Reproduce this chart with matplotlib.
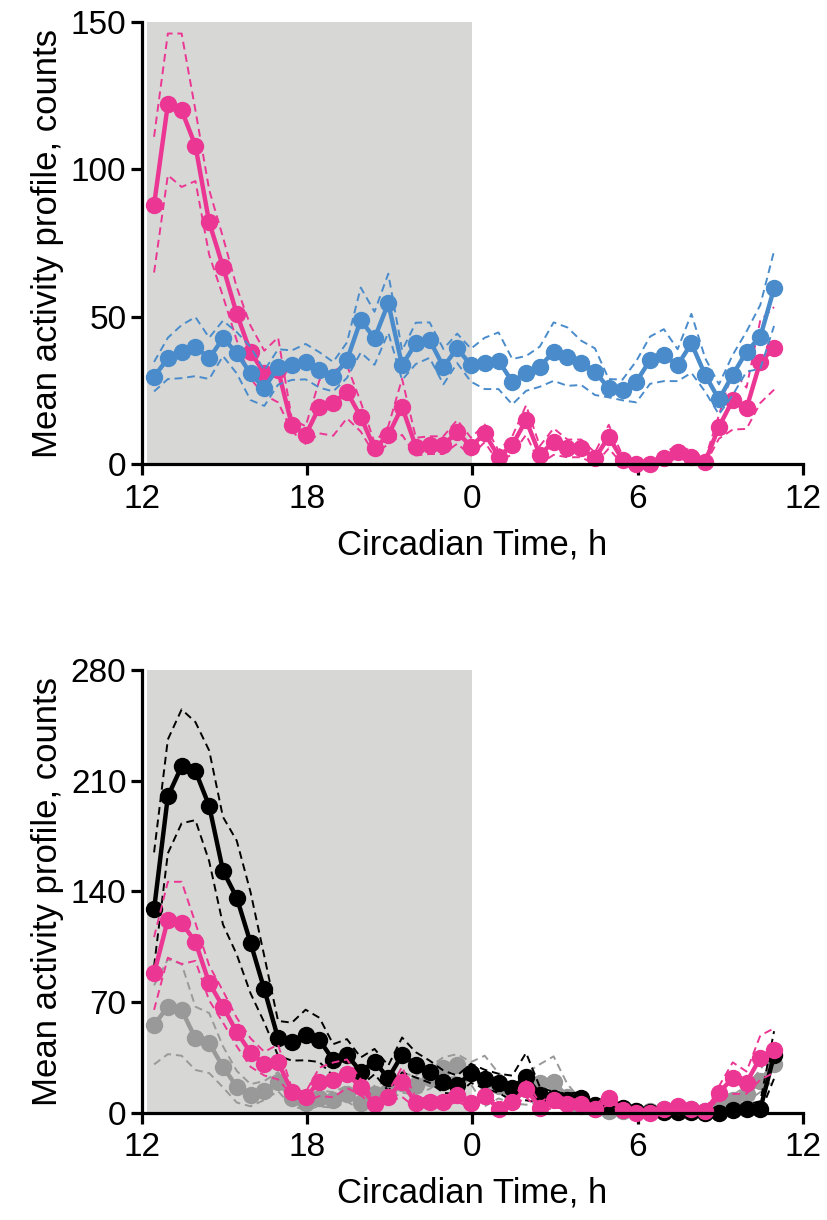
import numpy as np
import matplotlib.pyplot as plt

plt.rcParams['font.family'] = ['Liberation Sans', 'DejaVu Sans']

# time bins (h), 30-min bins from CT12 onward
hours = np.linspace(12.45, 34.95, 46)

# top panel: pink vs blue
pink_mean = [88, 122, 120, 108, 82, 67, 51, 38, 31, 32,
             13.3, 9.9, 19.5, 20.7, 24.6, 16.1, 5.4, 9.9, 19.5, 6.0,
             6.5, 6.5, 11.0, 6.0, 10.5, 2.6, 6.5, 15.0, 3.2, 7.7,
             5.4, 5.4, 2.0, 9.4, 1.5, 0, 0, 2.0, 4.3, 2.6,
             0.9, 12.7, 21.8, 19.0, 34.8, 39.3]
pink_sem = [23, 24, 26, 12, 11, 10, 9, 9, 7.5, 11,
            2, 3, 9, 11, 9, 5, 2, 3, 9.5, 3,
            3, 3, 4, 3, 3, 2, 3, 5, 3, 4.5,
            3, 3, 2, 4, 1.5, 1, 1, 2, 2, 2,
            1, 4, 10, 7, 14, 14]

blue_mean = [29.7, 35.9, 38.2, 39.9, 35.9, 42.7, 37.8, 30.8, 25.8, 33,
             33.6, 34.8, 32.0, 29.7, 35.3, 48.9, 42.7, 54.6, 33.6, 41.0,
             42.1, 33.1, 39.3, 33.6, 34.2, 35.1, 28.0, 30.8, 33.1, 38.2,
             36.5, 34.4, 31.4, 25.8, 25.2, 28.0, 35.3, 37.0, 33.6, 41.0,
             30.3, 22.0, 30.3, 38.2, 43.2, 59.6]
blue_sem = [5, 7, 9, 10, 7, 6, 7, 9, 6, 6,
            5, 6, 6, 5, 6, 11, 9, 10, 5, 7,
            6, 6, 5, 5.6, 8.7, 9.6, 7.7, 5.9, 6.8, 9.9,
            9.9, 7.5, 7.9, 3.1, 3.5, 7, 8, 8.8, 5.4, 10,
            5.7, 5.1, 6.8, 6.8, 10.8, 12.7]

# bottom panel: black and grey (pink repeated)
black_mean = [128.6, 200, 219, 216, 194, 153, 136, 107.5, 78, 47,
              44.9, 49.1, 46, 33.3, 36.5, 25.9, 32.3, 21.8, 36.5, 30.2,
              25.9, 19.6, 17.5, 24.9, 21.1, 18.6, 15.4, 22.8, 11.2, 9,
              8, 9, 5, 5, 2.8, 1, 0.5, 0.5, 0.5, 0.5,
              0, 0, 1.5, 2.2, 2.2, 36.5]
black_sem = [36, 36, 36, 31, 35, 34, 36, 32, 21, 11,
             12, 16, 14, 10, 10, 9, 8, 8, 11, 8,
             7, 7, 6, 6, 6, 6, 8, 15, 5, 4,
             4, 4, 3, 3, 2, 1, 1, 1, 1, 1,
             1, 1, 2, 3, 5, 15]

grey_mean = [55.5, 67, 65, 47, 44, 29, 16.4, 11, 14, 19.6,
             9, 6, 9, 8, 12, 6, 12, 14, 18.6, 17.5,
             22, 28, 30, 25, 20, 17, 12, 15, 18.6, 19.6,
             10, 4, 2, 1, 1, 1, 1, 2, 2, 2,
             1, 4, 8, 12, 20, 31]
grey_sem = [25, 30, 29, 20, 19, 13, 10, 7, 6, 6,
            5, 4, 5, 5, 5, 4, 5, 6, 6, 6,
            7, 7, 7, 7, 16, 8, 6, 10, 12, 16,
            8, 4, 2, 1, 1, 1, 1, 1, 1, 1,
            1, 2, 3, 5, 7, 10]

xticks = [12, 18, 24, 30, 36]
xlabels = ['12', '18', '0', '6', '12']

PINK = '#EC3694'
BLUE = '#4A8CCB'
GREY = '#999999'
BLACK = '#000000'
SHADE = '#D7D7D5'


def profile(ax, mean, sem, color, z):
    m = np.array(mean, dtype=float)
    s = np.array(sem, dtype=float)
    dash = (0, (4, 2.5))
    ax.plot(hours, m + s, color=color, lw=1.4, ls=dash, zorder=z)
    ax.plot(hours, np.maximum(m - s, 0), color=color, lw=1.4, ls=dash, zorder=z)
    ax.plot(hours, m, color=color, lw=3.2, marker='o', ms=11.5,
            zorder=z + 0.5, clip_on=False)


def style(ax, ymax, yticks):
    ax.axvspan(12.2, 24, color=SHADE, lw=0, zorder=0)
    ax.set_xlim(12, 36)
    ax.set_ylim(0, ymax)
    ax.set_xticks(xticks)
    ax.set_xticklabels(xlabels)
    ax.set_yticks(yticks)
    for side in ['top', 'right']:
        ax.spines[side].set_visible(False)
    for side in ['left', 'bottom']:
        ax.spines[side].set_linewidth(2.3)
        ax.spines[side].set_zorder(5)
    ax.tick_params(direction='out', length=8, width=2.3, labelsize=24)
    ax.tick_params(axis='x', pad=6)
    ax.tick_params(axis='y', pad=3)
    ax.set_xlabel('Circadian Time, h', fontsize=25, labelpad=10)
    ax.set_ylabel('Mean activity profile, counts', fontsize=25, labelpad=5)


fig = plt.figure(figsize=(8.28, 12.2), dpi=100)
ax1 = fig.add_axes([0.1711, 0.6194, 0.7987, 0.3628])
ax2 = fig.add_axes([0.1711, 0.0880, 0.7987, 0.3629])

profile(ax1, pink_mean, pink_sem, PINK, 2)
profile(ax1, blue_mean, blue_sem, BLUE, 3)
style(ax1, 150, [0, 50, 100, 150])

profile(ax2, grey_mean, grey_sem, GREY, 2)
profile(ax2, black_mean, black_sem, BLACK, 3)
profile(ax2, pink_mean, pink_sem, PINK, 4)
style(ax2, 280, [0, 70, 140, 210, 280])

fig.savefig('out.png', dpi=100)
